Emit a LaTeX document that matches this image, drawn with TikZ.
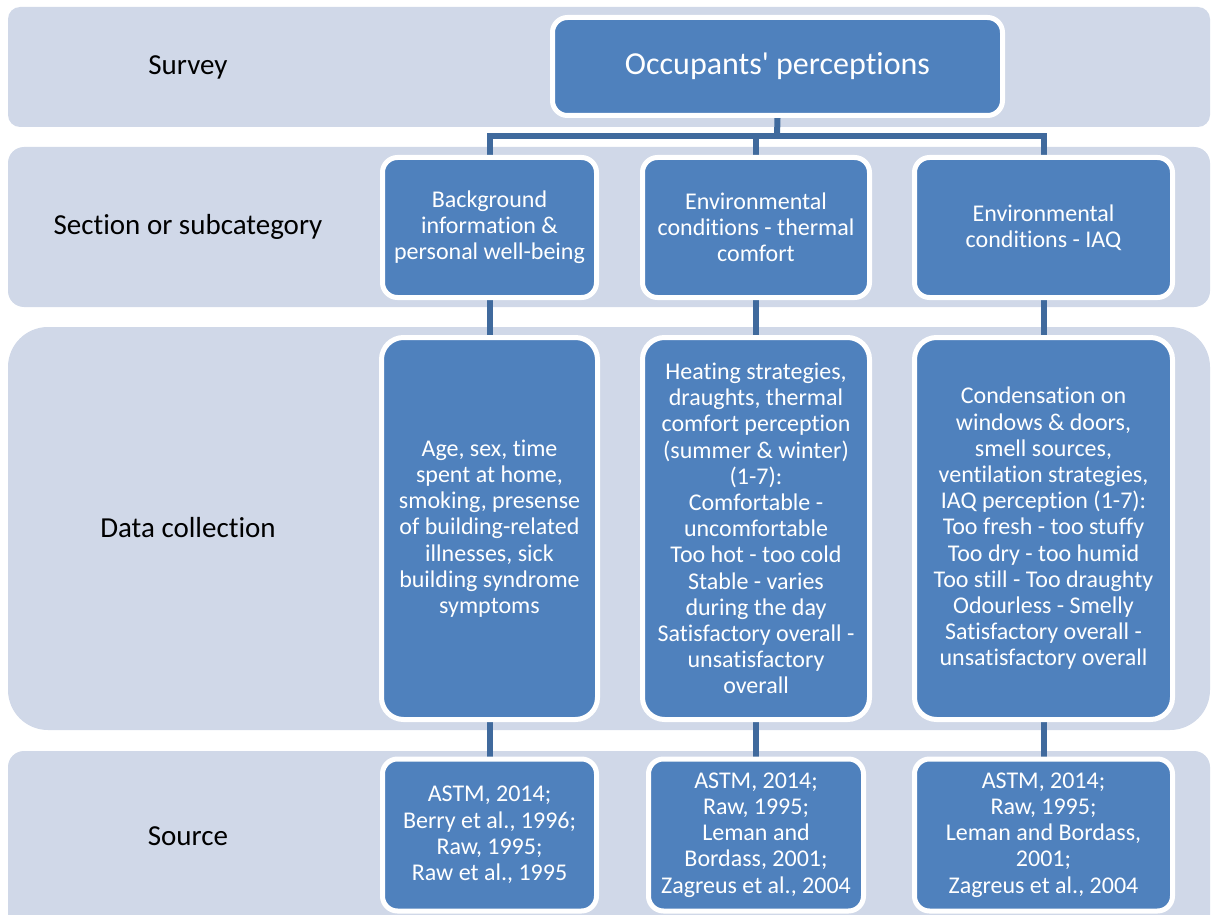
\documentclass[tikz,border=0pt]{standalone}
\usepackage{fontspec}
\setmainfont[Ligatures={NoCommon}]{Carlito}
\usetikzlibrary{backgrounds}
\definecolor{bandfill}{RGB}{208,216,232}
\definecolor{boxfill}{RGB}{79,129,189}
\definecolor{linkblue}{RGB}{64,106,157}
\begin{document}
\begin{tikzpicture}[x=1pt,y=-1pt,
  band/.style={fill=bandfill},
  rowlabel/.style={font=\fontsize{29}{35}\selectfont, text=black, inner sep=0pt},
  card/.style={rectangle, fill=boxfill, draw=white, line width=5pt, text=white,
    align=center, font=\fontsize{24}{26.2}\selectfont, inner sep=0pt,
    rounded corners=15pt},
  link/.style={draw=linkblue, line width=6pt}]
\useasboundingbox (0,0) rectangle (1219,915);
\clip (0,0) rectangle (1219,915);

% row labels
\node[rowlabel] (lsurvey)  at (188,67)  {Survey};
\node[rowlabel] (lsection) at (188,227) {Section or subcategory};
\node[rowlabel] (ldata)    at (188,528) {Data collection};
\node[rowlabel] (lsource)  at (188,836) {Source};

% level 1
\node[card, minimum width=450pt, minimum height=98pt,
  font=\fontsize{32}{38}\selectfont] (top) at (777.5,66.5) {Occupants\textquotesingle{} perceptions};

% level 2: sections
\node[card, minimum width=214pt, minimum height=140pt] (a2) at (489.5,227.5)
  {Background\\information \&\\personal well-being};
\node[card, minimum width=227pt, minimum height=140pt] (b2) at (756,227.5)
  {Environmental\\conditions - thermal\\comfort};
\node[card, minimum width=258pt, minimum height=140pt] (c2) at (1043.5,227.5)
  {Environmental\\conditions - IAQ};

% level 3: data collected
\node[card, rounded corners=22pt, minimum width=216pt, minimum height=382pt] (a3) at (489.5,528.5)
  {Age, sex, time\\spent at home,\\smoking, presense\\of building-related\\illnesses, sick\\building syndrome\\symptoms};
\node[card, rounded corners=22pt, minimum width=227pt, minimum height=382pt] (b3) at (756,528.5)
  {Heating strategies,\\draughts, thermal\\comfort perception\\(summer \& winter)\\(1-7):\\Comfortable -\\uncomfortable\\Too hot - too cold\\Stable - varies\\during the day\\Satisfactory overall -\\unsatisfactory\\overall};
\node[card, rounded corners=22pt, minimum width=258pt, minimum height=382pt] (c3) at (1043.5,528.5)
  {Condensation on\\windows \& doors,\\smell sources,\\ventilation strategies,\\IAQ perception (1-7):\\Too fresh - too stuffy\\Too dry - too humid\\Too still - Too draughty\\Odourless - Smelly\\Satisfactory overall -\\unsatisfactory overall};

% level 4: sources
\node[card, minimum width=214pt, minimum height=152pt] (a4) at (489.5,835)
  {ASTM, 2014;\\Berry et al., 1996;\\Raw, 1995;\\Raw et al., 1995};
\node[card, minimum width=215pt, minimum height=152pt] (b4) at (756,835)
  {ASTM, 2014;\\Raw, 1995;\\Leman and\\Bordass, 2001;\\Zagreus et al., 2004};
\node[card, minimum width=258pt, minimum height=152pt] (c4) at (1043.5,835)
  {ASTM, 2014;\\Raw, 1995;\\Leman and Bordass,\\2001;\\Zagreus et al., 2004};

\begin{scope}[on background layer]
  % horizontal bands
  \fill[band, rounded corners=12pt] (8,7)   rectangle (1210,127);
  \fill[band, rounded corners=16pt] (8,147) rectangle (1210,307);
  \fill[band, rounded corners=40pt] (8,327) rectangle (1210,730);
  \fill[band, rounded corners=16pt] (8,751) rectangle (1210,940);
  % hierarchy connectors
  \coordinate (bus) at (777,136);
  \draw[link] (top.south) -- (bus);
  \draw[link] (a2.north) |- (bus) -| (c2.north);
  \draw[link] (b2.north) -- (b2.north |- bus);
  \draw[link] (a2.south) -- (a3.north);
  \draw[link] (b2.south) -- (b3.north);
  \draw[link] (c2.south) -- (c3.north);
  \draw[link] (a3.south) -- (a4.north);
  \draw[link] (b3.south) -- (b4.north);
  \draw[link] (c3.south) -- (c4.north);
\end{scope}
\end{tikzpicture}
\end{document}
